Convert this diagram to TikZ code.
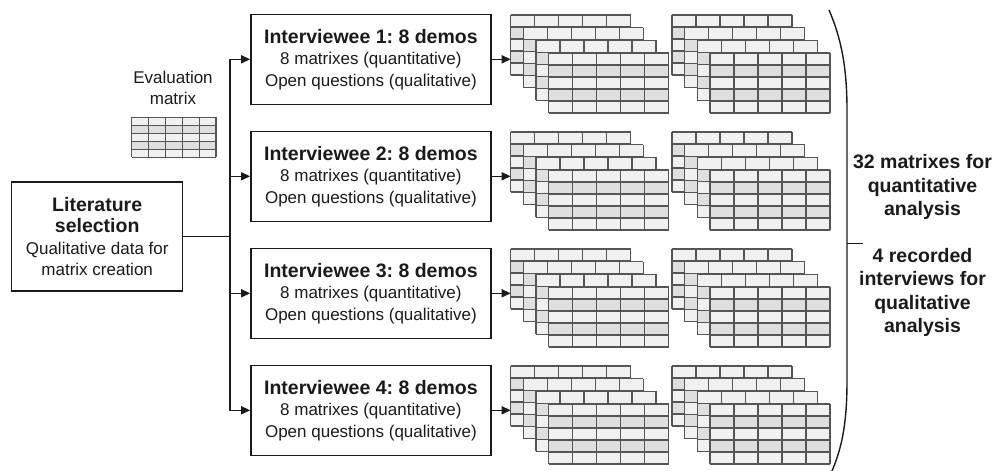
\documentclass[tikz,border=0pt]{standalone}
\usepackage{fontspec}
\setmainfont{Liberation Sans}
\usepackage{tikz}
\usetikzlibrary{arrows.meta}

\definecolor{rowlight}{HTML}{F1F1F1}
\definecolor{rowdark}{HTML}{DFDFDF}
\definecolor{gridgray}{HTML}{555555}
\definecolor{ink}{HTML}{1A1A1A}

\newcommand{\headfont}{\fontsize{19.5}{23.5}\selectfont\bfseries}
\newcommand{\bodyfont}{\fontsize{17}{21.5}\selectfont}
\frenchspacing

\begin{document}
\begin{tikzpicture}[x=1pt,y=-1pt,
        ivbox/.style={draw=ink,line width=1.4pt,minimum width=240pt,minimum height=90pt,
            inner sep=0pt,align=center,font=\bodyfont,text=ink},
        litbox/.style={ivbox,minimum width=171pt,minimum height=109pt},
        wire/.style={draw=ink,line width=1.4pt},
        arr/.style={wire,-{Triangle[length=9pt,width=8pt]}},
        sheet/.pic={
            \foreach \r/\c in {0/rowlight,1/rowdark,2/rowlight,3/rowdark,4/rowlight}
                \fill[\c] (0,12*\r) rectangle (120,12*\r+12);
            \foreach \k in {0,24,...,120}
                \draw[gridgray,line width=1.1pt] (\k,0) -- (\k,60);
            \foreach \k in {0,12,...,60}
                \draw[gridgray,line width=1.1pt] (0,\k) -- (120,\k);
        },
        stack/.pic={
            \foreach \s in {0,...,3}
                \pic at (12.67*\s,12.67*\s) {sheet};
            \coordinate (-in) at (0,45);
        }]

        \useasboundingbox (0,0) rectangle (994,471);

        % source of the matrices
        \node[litbox] (lit) at (97.2,236.3) {{\headfont Literature}\\{\headfont selection}\\Qualitative data for\\matrix creation};
        \node[font=\bodyfont,align=center,text=ink] (evlab) at (173,88) {Evaluation\\matrix};
        \pic[xscale=0.7025,yscale=0.667] (evmat) at (131.7,117.3) {sheet};

        % one box per interviewee
        \node[ivbox] (iv1) at (370.9,59.3) {{\headfont Interviewee 1: 8 demos}\\8 matrixes (quantitative)\\Open questions (qualitative)};
        \node[ivbox] (iv2) at (370.9,176.3) {{\headfont Interviewee 2: 8 demos}\\8 matrixes (quantitative)\\Open questions (qualitative)};
        \node[ivbox] (iv3) at (370.9,293.3) {{\headfont Interviewee 3: 8 demos}\\8 matrixes (quantitative)\\Open questions (qualitative)};
        \node[ivbox] (iv4) at (370.9,410.3) {{\headfont Interviewee 4: 8 demos}\\8 matrixes (quantitative)\\Open questions (qualitative)};

        % filled matrices
        \pic (st1) at (510.7,15) {stack};
        \pic (st2) at (510.7,132) {stack};
        \pic (st3) at (510.7,249) {stack};
        \pic (st4) at (510.7,366) {stack};
        \pic (sr1) at (672,15) {stack};
        \pic (sr2) at (672,132) {stack};
        \pic (sr3) at (672,249) {stack};
        \pic (sr4) at (672,366) {stack};

        \coordinate (split) at (230,236.3);
        \draw[wire] (lit.east) -- (split);
        \draw[arr] (split) |- (iv1.west);
        \draw[arr] (split) |- (iv2.west);
        \draw[arr] (split) |- (iv3.west);
        \draw[arr] (split) |- (iv4.west);

        \draw[arr] (iv1.east) -- (iv1.east -| st1-in);
        \draw[arr] (iv2.east) -- (iv2.east -| st2-in);
        \draw[arr] (iv3.east) -- (iv3.east -| st3-in);
        \draw[arr] (iv4.east) -- (iv4.east -| st4-in);

        % bracket with the totals
        \coordinate (brk) at (847,243.3);
        \draw[wire] (829,10) .. controls (842,40) and (847,70) .. (847,110)
            -- (847,380) .. controls (847,420) and (843,445) .. (832,471);
        \draw[wire] (brk) -- ++(16,0);
        \node[font=\headfont,align=center,text=ink] (quant) at (922.5,187) {32 matrixes for\\quantitative\\analysis};
        \node[font=\headfont,align=center,text=ink] (qual) at (922.5,292.5) {4 recorded\\interviews for\\qualitative\\analysis};

    \end{tikzpicture}
\end{document}
